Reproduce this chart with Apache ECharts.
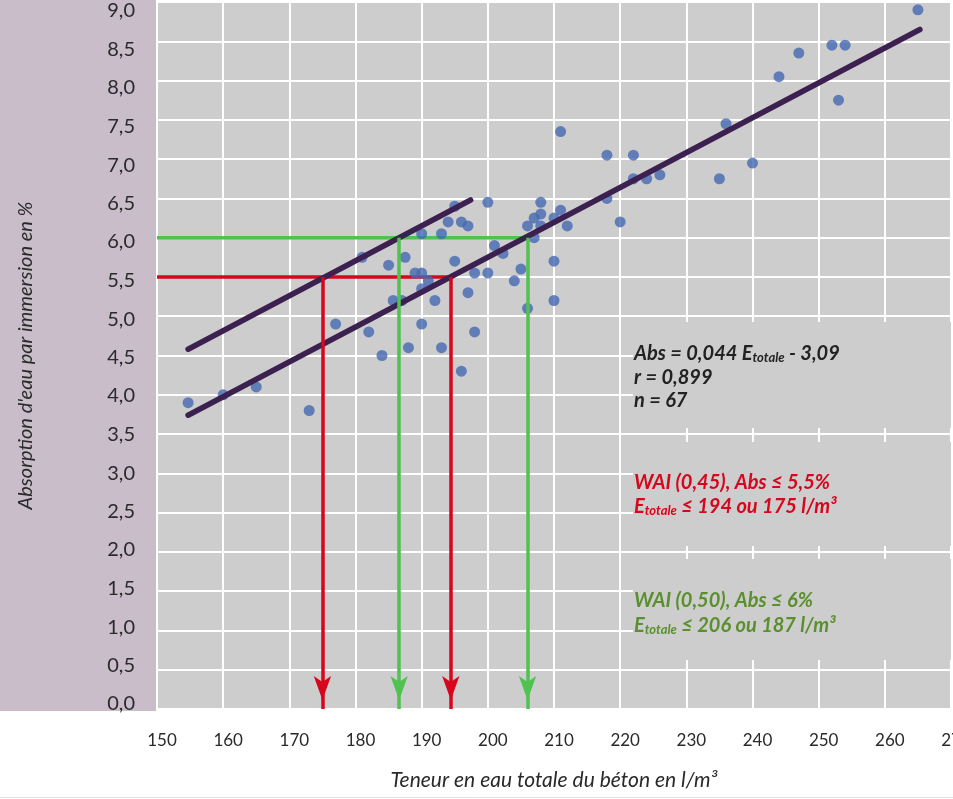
<!DOCTYPE html>
<html><head><meta charset="utf-8">
<script src="https://cdn.jsdelivr.net/npm/echarts@6/dist/echarts.min.js"></script>
<style>html,body{margin:0;padding:0;background:#fff}#c{width:953px;height:799px}</style>
</head><body><div id="c"></div>
<script>
// ---- data ----
const waterE = [154.7,160,165,173,177,181,182,184,185,185.7,187,187.5,188,189,190,190,190,190,191,192,193,193,194,195,195,196,196,197,197,198,198,200,200,201,202.3,204,205,206,206,207,207,208,208,208,210,210,210,211,211,212,218,218,220,222,222,224,226,235,236,240,244,247,252,253,254,265];
const absorption = [3.9,4.0,4.1,3.8,4.9,5.75,4.8,4.5,5.65,5.2,5.2,5.75,4.6,5.55,5.55,4.9,5.35,6.05,5.45,5.2,4.6,6.05,6.2,6.4,5.7,6.2,4.3,6.15,5.3,5.55,4.8,6.45,5.55,5.9,5.8,5.45,5.6,5.1,6.15,6.0,6.25,6.3,6.45,6.15,6.25,5.7,5.2,6.35,7.35,6.15,7.05,6.5,6.2,7.05,6.75,6.75,6.8,6.75,7.45,6.95,8.05,8.35,8.45,7.75,8.45,8.9];
const fitLine = [[154.7, 3.74], [265.3, 8.65]];
const upperLine = [[154.7, 4.58], [197.4, 6.48]];
const redLevel = 5.5, redX = [175, 194.4];
const greenLevel = 6.0, greenX = [186.6, 206];
const xMin = 150, xMax = 270, xStep = 10;
const yMin = 0, yMax = 9, yStep = 0.5;
const xTitle = 'Teneur en eau totale du béton en l/m³';
const yTitle = "Absorption d'eau par immersion en %";
const eqLines = ['Abs = 0,044 E{s|totale} - 3,09', 'r = 0,899', 'n = 67'];
const redLines = ['WAI (0,45), Abs ≤ 5,5%', 'E{s|totale} ≤ 194 ou 175 l/m³'];
const greenLines = ['WAI (0,50), Abs ≤ 6%', 'E{s|totale} ≤ 206 ou 187 l/m³'];

// ---- styling ----
const FONT = 'Lato';
const PLOT_BG = '#cdcdcd';
const RED = '#d7061c', GREEN = '#4fc24f', FIT = '#3c2150', DOT = '#4569b2';

const chart = echarts.init(document.getElementById('c'), null, {renderer: 'canvas'});

const yRich = {};
for (let i = 0; i <= 18; i++) {
  const v = i * 0.5;
  const off = Math.round(-5 + 14 * v / 9);
  yRich['l' + i] = {
    fontFamily: FONT, fontSize: 20, color: '#2a2a2a',
    padding: off >= 0 ? [2 * off, 0, 0, 0] : [0, 0, -2 * off, 0]
  };
}

function arrowLeg(x, level) {
  return [
    {coord: [x, level], symbol: 'none'},
    {coord: [x, 0], symbol: 'arrow', symbolSize: [13, 24], symbolOffset: [0, 9]}
  ];
}

function textBlock(lines, x, y0, dy, color) {
  return lines.map((t, i) => ({
    type: 'text', x: x, y: y0 + i * dy, z: 10,
    style: {
      text: t, fill: color, font: 'italic bold 20px ' + FONT,
      verticalAlign: 'middle', align: 'left',
      rich: { s: { fontFamily: FONT, fontStyle: 'italic', fontWeight: 'bold', fontSize: 13, fill: color, verticalAlign: 'bottom', padding: [6, 0, 0, 0] } }
    }
  }));
}

const option = {
  backgroundColor: '#ffffff',
  animation: false,
  grid: { left: 157, right: 2, top: 2, bottom: 90, containLabel: false, outerBoundsMode: 'none',
          show: true, backgroundColor: PLOT_BG, borderWidth: 0 },
  xAxis: {
    type: 'value', min: xMin, max: xMax, interval: xStep,
    axisLine: {show: false}, axisTick: {show: false},
    splitLine: {show: true, lineStyle: {color: '#ffffff', width: 2}},
    axisLabel: {fontFamily: FONT, fontSize: 17, color: '#2a2a2a', margin: 23, padding: [0, 0, 0, 10], showMaxLabel: true, hideOverlap: false},
    name: xTitle, nameLocation: 'middle', nameGap: 61,
    nameTextStyle: {fontFamily: FONT, fontStyle: 'italic', fontSize: 21, color: '#2a2a2a'}
  },
  yAxis: {
    type: 'value', min: yMin, max: yMax, interval: yStep,
    axisLine: {show: false}, axisTick: {show: false},
    splitLine: {show: true, lineStyle: {color: '#ffffff', width: 2}},
    axisLabel: {
      margin: 22, fontFamily: FONT, fontSize: 20, color: '#2a2a2a',
      formatter: v => '{l' + Math.round(v * 2) + '|' + v.toFixed(1).replace('.', ',') + '}',
      rich: yRich
    },
    name: yTitle, nameLocation: 'middle', nameGap: 121, nameRotate: 90,
    nameTextStyle: {fontFamily: FONT, fontStyle: 'italic', fontSize: 20, color: '#2a2a2a'}
  },
  graphic: [
    {type: 'rect', shape: {x: 0, y: 0, width: 156, height: 711}, style: {fill: '#c9bdca'}, z: 0, silent: true},
    {type: 'line', shape: {x1: 0, y1: 797.5, x2: 953, y2: 797.5}, style: {stroke: '#e2e2e2', lineWidth: 1}, silent: true},
    {type: 'rect', shape: {x: 633, y: 322, width: 318, height: 106}, style: {fill: PLOT_BG}, z: 1, silent: true},
    {type: 'rect', shape: {x: 633, y: 442, width: 318, height: 104}, style: {fill: PLOT_BG}, z: 1, silent: true},
    {type: 'rect', shape: {x: 633, y: 559, width: 318, height: 101}, style: {fill: PLOT_BG}, z: 1, silent: true},
    ...textBlock(eqLines, 634, 354, 23.5, '#222222'),
    ...textBlock(redLines, 634, 483, 24, RED),
    ...textBlock(greenLines, 634, 601, 25, '#5a8f2e')
  ],
  series: [
    {
      type: 'line', z: 2, data: [[xMin, redLevel], [redX[1], redLevel]],
      symbol: 'none', lineStyle: {color: RED, width: 3.5}, silent: true,
      markLine: {
        silent: true, animation: false, label: {show: false},
        lineStyle: {color: RED, width: 3.5, type: 'solid'},
        data: [arrowLeg(redX[0], redLevel), arrowLeg(redX[1], redLevel)]
      }
    },
    {
      type: 'line', z: 2, data: [[xMin, greenLevel], [greenX[1], greenLevel]],
      symbol: 'none', lineStyle: {color: GREEN, width: 3.5}, silent: true,
      markLine: {
        silent: true, animation: false, label: {show: false},
        lineStyle: {color: GREEN, width: 3.5, type: 'solid'},
        data: [arrowLeg(greenX[0], greenLevel), arrowLeg(greenX[1], greenLevel)]
      }
    },
    {
      type: 'scatter', z: 3, symbol: 'circle', symbolSize: 11,
      itemStyle: {color: DOT},
      data: waterE.map((e, i) => [e, absorption[i]])
    },
    {
      type: 'line', z: 4, data: fitLine, symbol: 'none',
      lineStyle: {color: FIT, width: 5.5, cap: 'round'}, silent: true
    },
    {
      type: 'line', z: 4, data: upperLine, symbol: 'none',
      lineStyle: {color: FIT, width: 5.5, cap: 'round'}, silent: true
    }
  ]
};
chart.setOption(option);
</script>
</body></html>
